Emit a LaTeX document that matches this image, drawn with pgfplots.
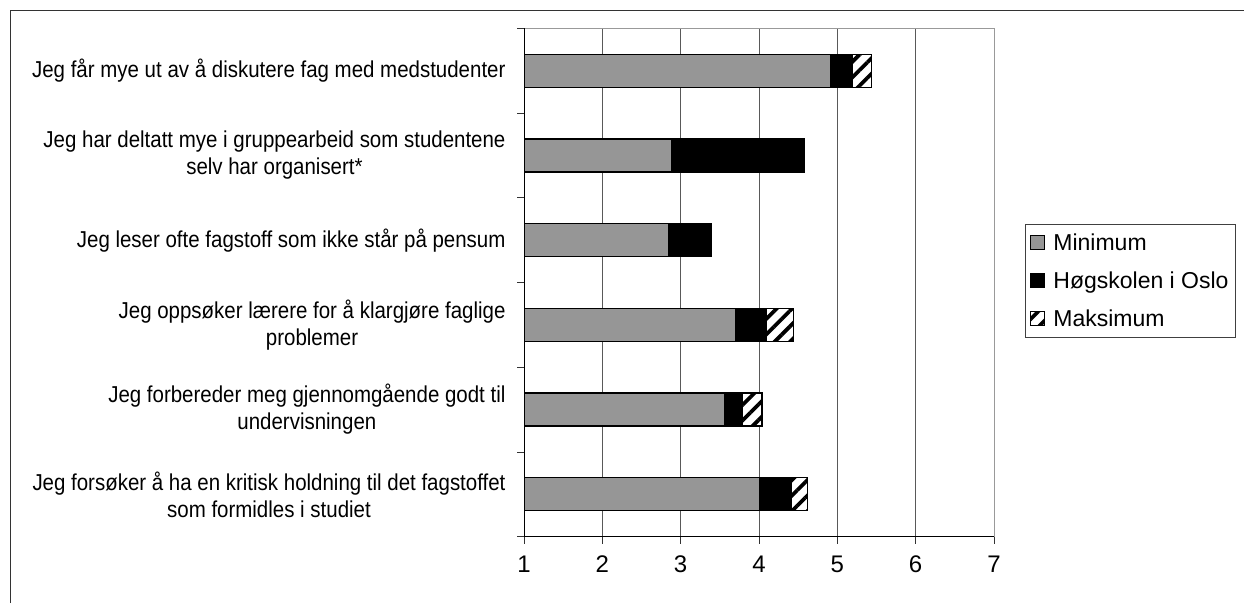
\documentclass[border=0pt]{standalone}
\usepackage{fontspec}
\setmainfont{Liberation Sans}
\newfontfamily\catfont{Liberation Sans}[FakeStretch=0.89]
\usepackage{pgfplots}
\pgfplotsset{compat=1.18}
\usetikzlibrary{patterns.meta}

\definecolor{mingray}{HTML}{969696}

\begin{document}
\begin{tikzpicture}
\useasboundingbox (0,0) rectangle (1244pt,603pt);
% outer chart frame (left and top edges visible)
\draw[black!80, line width=1.3pt] (10.5pt,0pt) -- (10.5pt,592.8pt) -- (1244pt,592.8pt);

\begin{axis}[
  at={(524pt,66.3pt)}, anchor=south west, scale only axis,
  width=470pt, height=508.4pt,
  xbar stacked, bar width=33pt,
  xmin=1, xmax=7, ymin=-0.5, ymax=5.5, y dir=reverse,
  xtick={1,...,7}, minor xtick={1,...,7},
  ytick={0,...,5}, minor ytick={-0.5,0.5,...,5.5},
  major tick length=0pt, minor tick length=7pt, tick align=outside,
  tick pos=left,
  xmajorgrids, major grid style={black!65, line width=0.9pt},
  minor tick style={black!80, line width=0.9pt},
  axis line style={draw=gray!80, line width=1pt},
  xticklabel style={font=\fontsize{24}{28}\selectfont, anchor=north,
    text height=17pt, text depth=0pt, yshift=-15pt,
    /pgf/number format/assume math mode=true},
  yticklabel style={font=\catfont\fontsize{23}{27}\selectfont, align=center, xshift=-15pt},
  yticklabels={
    {Jeg får mye ut av å diskutere fag med medstudenter},
    {Jeg har deltatt mye i gruppearbeid som studentene\\selv har organisert*},
    {Jeg leser ofte fagstoff som ikke står på pensum},
    {Jeg oppsøker lærere for å klargjøre faglige\\problemer},
    {Jeg forbereder meg gjennomgående godt til\\undervisningen},
    {Jeg forsøker å ha en kritisk holdning til det fagstoffet\\som formidles i studiet}},
  legend style={at={(1.066,0.615)}, anchor=north west, draw=black!75, line width=0.8pt,
    font=\fontsize{23}{27}\selectfont, row sep=16pt, column sep=6pt,
    inner xsep=5pt, inner ysep=7pt, legend cell align=left},
  legend image code/.code={\draw[#1, line width=1pt] (0pt,-7pt) rectangle (14pt,7pt);},
]
\addplot[fill=mingray, draw=black, line width=1.3pt] coordinates
  {(4.91,0) (2.89,1) (2.85,2) (3.70,3) (3.56,4) (4.01,5)};
\addplot[fill=black, draw=black, line width=1.3pt] coordinates
  {(0.28,0) (1.69,1) (0.54,2) (0.39,3) (0.23,4) (0.40,5)};
\addplot[fill=white, draw=black, line width=1.3pt,
  postaction={pattern={Lines[angle=45,distance=11pt,line width=3.8pt]}}] coordinates
  {(0.25,0) (0,1) (0,2) (0.35,3) (0.25,4) (0.21,5)};
\legend{Minimum, Høgskolen i Oslo, Maksimum}
\draw[black, line width=1.2pt] (axis cs:1,-0.5) -- (axis cs:1,5.5) -- (axis cs:7,5.5);
\end{axis}
\end{tikzpicture}
\end{document}
